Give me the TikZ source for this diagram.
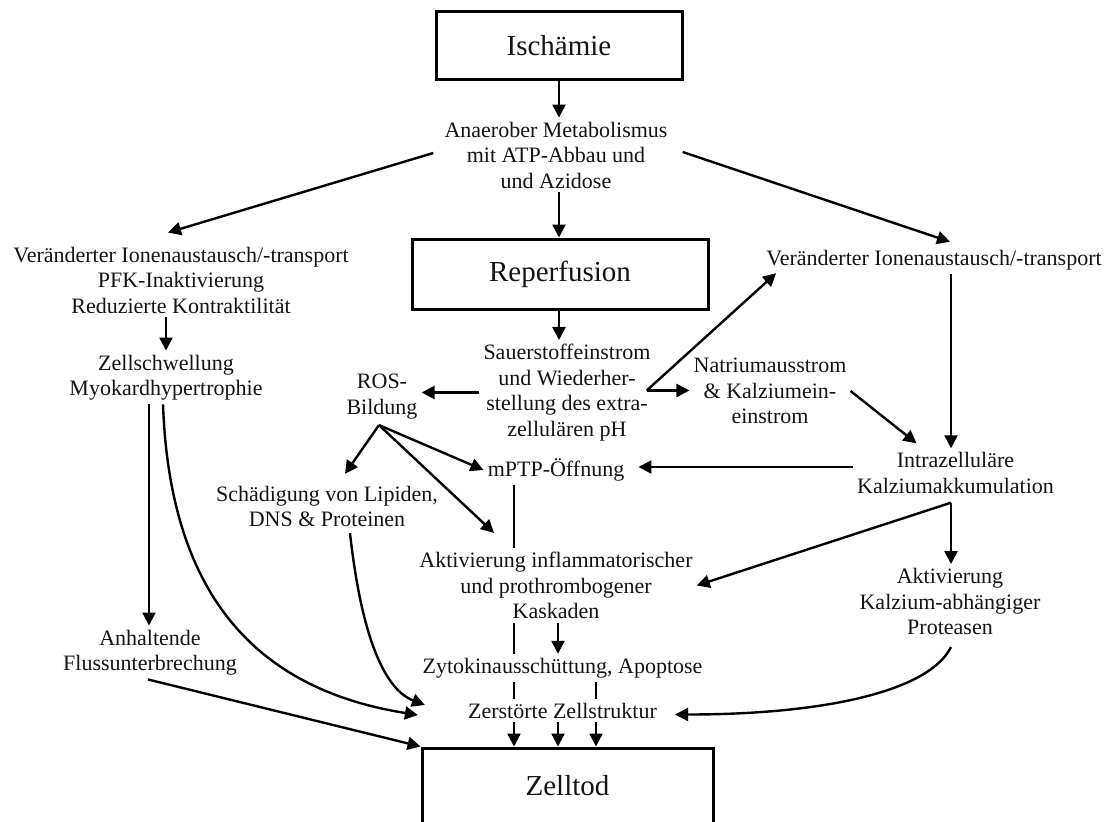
\documentclass[tikz,border=0pt]{standalone}
\usepackage{fontspec}
\setmainfont{Liberation Serif}
\usetikzlibrary{arrows.meta,calc}
\begin{document}
\begin{tikzpicture}[x=1pt,y=-1pt,
  txt/.style={font=\fontsize{22}{25.5}\selectfont, align=center, inner sep=4pt, text=black!92},
  bigbox/.style={draw, line width=3pt, font=\fontsize{29}{33}\selectfont, inner sep=0pt, text=black!92},
  arr/.style={-{Triangle[length=13pt,width=13pt]}, line width=2.4pt},
  plain/.style={line width=2.2pt}]
\useasboundingbox[fill=white] (0,0) rectangle (1107,821);

% column coordinates
\coordinate (cA) at (514,0);
\coordinate (cB) at (558,0);
\coordinate (cC) at (596,0);
\coordinate (cD) at (951,0);
\coordinate (cL) at (149,0);
\coordinate (cL2) at (163,0);

% boxes
\node[bigbox, minimum width=246, minimum height=68] (isch) at (559,46) {Ischämie};
\node[bigbox, minimum width=296, minimum height=70] (reperf) at (560,274) {Reperfusion};
\node[bigbox, minimum width=291, minimum height=76] (zelltod) at (567.5,786) {Zelltod};

% text nodes
\node[txt] (anae) at (556,155) {Anaerober Metabolismus\\mit ATP-Abbau und\\und Azidose};
\node[txt] (vl) at (181,280) {Veränderter Ionenaustausch/-transport\\PFK-Inaktivierung\\Reduzierte Kontraktilität};
\node[txt] (vr) at (934,260) {Veränderter Ionenaustausch/-transport};
\node[txt] (zell) at (166,377.5) {Zellschwellung\\Myokardhypertrophie};
\node[txt] (sauer) at (567,392.5) {Sauerstoffeinstrom\\und Wiederher-\\stellung des extra-\\zellulären pH};
\node[txt] (ros) at (382,396.5) {ROS-\\Bildung};
\node[txt] (natr) at (770,391) {Natriumausstrom\\\& Kalziumein-\\einstrom};
\node[txt] (mptp) at (556,470) {mPTP-Öffnung};
\node[txt] (schaed) at (327,506.5) {Schädigung von Lipiden,\\DNS \& Proteinen};
\node[txt] (intra) at (955.5,473) {Intrazelluläre\\Kalziumakkumulation};
\node[txt] (aktinf) at (556,585.5) {Aktivierung inflammatorischer\\und prothrombogener\\Kaskaden};
\node[txt] (aktkal) at (950,601.5) {Aktivierung\\Kalzium-abhängiger\\Proteasen};
\node[txt] (anh) at (150,652.5) {Anhaltende\\Flussunterbrechung};
\node[txt] (zyto) at (562.5,668) {Zytokinausschüttung, Apoptose};
\node[txt] (zerst) at (562.5,710.5) {Zerstörte Zellstruktur};

% helper coordinates
\coordinate (fork) at ([shift={(-8,-2)}]sauer.east);
\coordinate (rb) at ([shift={(-3,2)}]ros.south);
\coordinate (ib) at ($(intra.south -| cD)+(0,5)$);
\coordinate (mR) at ($(mptp.east)+(0,-3)$);

% connectors
\draw[arr] (isch.south) -- (isch.south |- anae.north);
\draw[arr] ([shift={(-7,-2)}]anae.west) -- ([shift={(-13,-10)}]vl.north);
\draw[arr] ([shift={(11,-3)}]anae.east) -- ([shift={(16,-4)}]vr.north);
\draw[arr] (anae.south -| isch.south) -- (reperf.north -| isch.south);
\draw[arr] (reperf.south -| isch.south) -- (sauer.north -| isch.south);
\draw[arr] (sauer.west) -- (sauer.west -| ros.east);
\draw[arr] (fork) -- (fork -| natr.west);
\draw[arr] (fork) -- ([shift={(14,-1)}]vr.south west);
\draw[arr] (natr.east) -- ([shift={(-39,-5)}]intra.north);
\draw[arr] (vr.south -| cD) -- (intra.north -| cD);
\draw[arr, shorten >=10pt] (mR -| intra.west) -- (mR);
\draw[arr] (rb) -- (mptp.west);
\draw[arr] (rb) -- ([shift={(18,-8)}]schaed.north);
\draw[arr] (rb) -- ([shift={(-62,-15)}]aktinf.north);
\draw[plain] (mptp.south -| cA) -- (aktinf.north -| cA);
\draw[arr] (ib) -- (aktinf.east);
\draw[arr] (ib) -- (aktkal.north -| cD);
\draw[arr] ($(aktkal.south -| cD)+(0,8)$) .. controls +(-21,43) and +(154,0) .. ([shift={(14,4)}]zerst.east);
\draw[plain] (aktinf.south -| cA) -- (zyto.north -| cA);
\draw[arr] (aktinf.south -| cB) -- (zyto.north -| cB);
\draw[plain] (zyto.south -| cA) -- (zerst.north -| cA);
\draw[plain] (zyto.south -| cC) -- (zerst.north -| cC);
\foreach \c in {cA,cB,cC} \draw[arr] (zerst.south -| \c) -- (zelltod.north -| \c);
\draw[arr] (vl.south -| zell.north) -- (zell.north);
\draw[arr] (zell.south -| cL) -- (anh.north -| cL);
\draw[arr] (zell.south -| cL2) .. controls +(7,196) and +(-157,-25) .. ([shift={(-46,4.5)}]zerst.west);
\draw[arr] ([shift={(23,2)}]schaed.south) .. controls +(12,108) and +(-39,-15) .. ([shift={(-39,-5.5)}]zerst.west);
\draw[arr] ([xshift=-2pt]anh.south) -- (zelltod.north west);
\end{tikzpicture}
\end{document}
